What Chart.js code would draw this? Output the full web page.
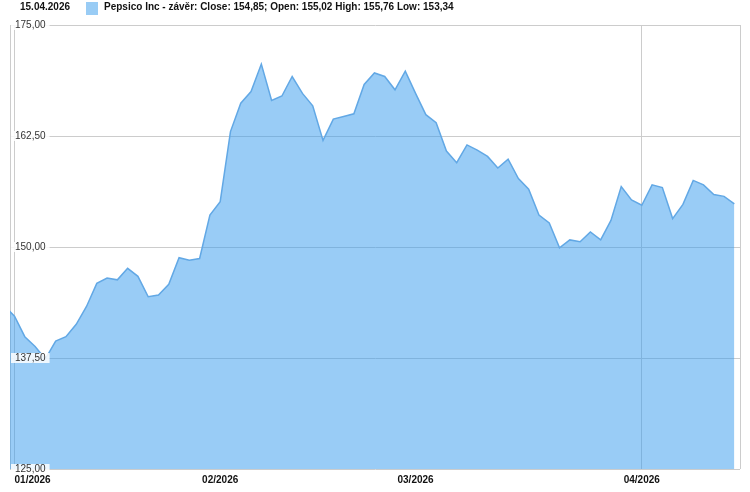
<!DOCTYPE html>
<html>
<head>
<meta charset="utf-8">
<script src="https://cdn.jsdelivr.net/npm/chart.js@4.4.1/dist/chart.umd.min.js"></script>
<style>
  body { margin: 0; background: #fff; font-family: Arial, "Liberation Sans", sans-serif; }
  #wrap { position: relative; width: 750px; height: 492px; }
  #head { position: absolute; left: 0; top: 0; height: 18px; font: bold 10px Arial, "Liberation Sans", sans-serif; color: #111; }
  #head span { position: absolute; top: 1px; white-space: nowrap; line-height: 12px; }
  #sq { position: absolute; left: 86px; top: 2px; width: 12px; height: 13px; background: #99ccf5; }
</style>
</head>
<body>
<div id="wrap">
  <canvas id="c" width="750" height="492"></canvas>
  <div id="head">
    <span style="left:20px">15.04.2026</span>
    <div id="sq"></div>
    <span style="left:104px">Pepsico Inc - závěr: Close: 154,85; Open: 155,02 High: 155,76 Low: 153,34</span>
  </div>
</div>
<script>
const dates = [
  '2025-12-31',
  '2026-01-02','2026-01-05','2026-01-06','2026-01-07','2026-01-08','2026-01-09','2026-01-12','2026-01-13','2026-01-14','2026-01-15',
  '2026-01-16','2026-01-20','2026-01-21','2026-01-22','2026-01-23','2026-01-26','2026-01-27','2026-01-28','2026-01-29','2026-01-30',
  '2026-02-02','2026-02-03','2026-02-04','2026-02-05','2026-02-06','2026-02-09','2026-02-10','2026-02-11','2026-02-12','2026-02-13',
  '2026-02-17','2026-02-18','2026-02-19','2026-02-20','2026-02-23','2026-02-24','2026-02-25','2026-02-26','2026-02-27',
  '2026-03-02','2026-03-03','2026-03-04','2026-03-05','2026-03-06','2026-03-09','2026-03-10','2026-03-11','2026-03-12','2026-03-13',
  '2026-03-16','2026-03-17','2026-03-18','2026-03-19','2026-03-20','2026-03-23','2026-03-24','2026-03-25','2026-03-26','2026-03-27',
  '2026-03-30','2026-03-31',
  '2026-04-01','2026-04-02','2026-04-06','2026-04-07','2026-04-08','2026-04-09','2026-04-10','2026-04-13','2026-04-14','2026-04-15'
];
const closes = [
  143.4,
  142.2, 139.9, 138.8, 137.4, 139.4, 139.9, 141.3, 143.3, 145.9, 146.5,
  146.3, 147.6, 146.7, 144.4, 144.6, 145.8, 148.8, 148.5, 148.7, 153.6,
  155.1, 163.0, 166.2, 167.5, 170.6, 166.5, 167.0, 169.2, 167.3, 165.9,
  162.0, 164.4, 164.7, 165.0, 168.3, 169.6, 169.2, 167.7, 169.8,
  167.3, 164.9, 164.0, 160.8, 159.5, 161.5, 160.9, 160.2, 158.9, 159.9,
  157.7, 156.5, 153.6, 152.7, 149.9, 150.8, 150.6, 151.7, 150.8, 153.0,
  156.8, 155.3,
  154.7, 157.0, 156.7, 153.2, 154.8, 157.5, 157.0, 155.9, 155.7, 154.85
];
const monthLabels = ['01/2026', '02/2026', '03/2026', '04/2026'];
const gridMonths = ['01/2026', '04/2026'];
const yTicks = [125, 137.5, 150, 162.5, 175];

// first trading day of each month -> index on x
const monthStart = monthLabels.map(m => {
  const [mm, yy] = m.split('/');
  return dates.findIndex(d => d.startsWith(yy + '-' + mm));
});
const xMin = 0.56;
const xMax = dates.length - 1 + 0.55;

const points = closes.map((v, i) => ({ x: i, y: v }));

new Chart(document.getElementById('c'), {
  type: 'line',
  data: {
    datasets: [{
      label: 'Pepsico Inc - závěr',
      data: points,
      borderColor: '#62a8e5',
      borderWidth: 1.5,
      backgroundColor: 'rgba(51,153,237,0.5)',
      fill: 'start',
      pointRadius: 0,
      tension: 0
    }]
  },
  options: {
    responsive: false,
    animation: false,
    devicePixelRatio: 1,
    layout: { padding: { top: 25, right: 10, bottom: 1, left: 0 } },
    plugins: { legend: { display: false }, tooltip: { enabled: false } },
    scales: {
      x: {
        type: 'linear',
        min: xMin,
        max: xMax,
        afterBuildTicks: (scale) => {
          scale.ticks = monthStart.map(v => ({ value: v })).concat([{ value: xMax }]);
        },
        grid: {
          drawTicks: false,
          color: (ctx) => {
            if (!ctx.tick) return 'transparent';
            const k = monthStart.indexOf(ctx.tick.value);
            if (ctx.tick.value === xMax) return '#cccccc';
            return (k >= 0 && gridMonths.includes(monthLabels[k])) ? '#cccccc' : 'transparent';
          }
        },
        border: { display: false },
        ticks: {
          autoSkip: false,
          maxRotation: 0,
          align: 'inner',
          padding: 5,
          color: '#111',
          font: { family: 'Arial, "Liberation Sans", sans-serif', size: 10, weight: 'bold' },
          callback: (v) => {
            const k = monthStart.indexOf(v);
            return k >= 0 ? monthLabels[k] : '';
          }
        }
      },
      y: {
        min: 125,
        max: 175,
        afterBuildTicks: (scale) => { scale.ticks = yTicks.map(v => ({ value: v })); },
        grid: { drawTicks: false, color: '#cccccc' },
        border: { display: true, color: '#cccccc' },
        ticks: {
          mirror: true,
          padding: 5,
          z: 1,
          color: '#333',
          showLabelBackdrop: true,
          backdropColor: 'rgba(255,255,255,0.85)',
          backdropPadding: { x: 4, y: 0 },
          font: { family: 'Arial, "Liberation Sans", sans-serif', size: 10, lineHeight: 1 },
          callback: (v) => v.toFixed(2).replace('.', ',')
        }
      }
    }
  }
});
</script>
</body>
</html>
